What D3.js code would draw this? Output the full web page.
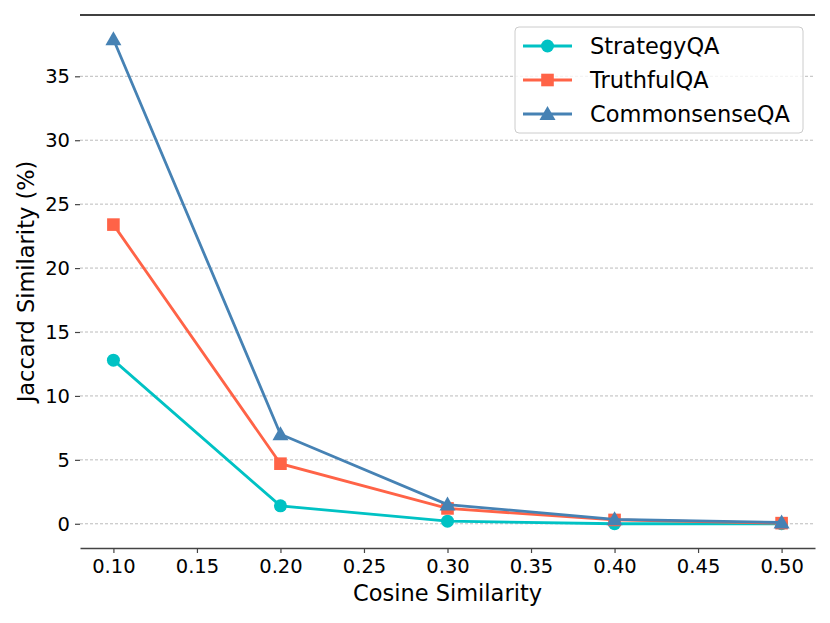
<!DOCTYPE html>
<html>
<head>
<meta charset="utf-8">
<script src="https://cdn.jsdelivr.net/npm/d3@7"></script>
<style>
  body { margin: 0; background: #fff; }
  text { font-family: "DejaVu Sans", sans-serif; }
</style>
</head>
<body>
<script>
let width = 830,
    height = 623;

// data
let cosine = [0.10, 0.20, 0.30, 0.40, 0.50];
let strategyQA = [12.8, 1.4, 0.2, 0.0, 0.0];
let truthfulQA = [23.4, 4.7, 1.2, 0.3, 0.05];
let commonsenseQA = [37.9, 7.0, 1.5, 0.35, 0.1];
let seriesNames = ["StrategyQA", "TruthfulQA", "CommonsenseQA"];
let xTicks = [0.10, 0.15, 0.20, 0.25, 0.30, 0.35, 0.40, 0.45, 0.50];
let yTicks = [0, 5, 10, 15, 20, 25, 30, 35];

let series = [
    {name: seriesNames[0], values: strategyQA, color: "#00C2C4", marker: "circle"},
    {name: seriesNames[1], values: truthfulQA, color: "#FF6347", marker: "square"},
    {name: seriesNames[2], values: commonsenseQA, color: "#4682B4", marker: "triangle"}
];

let margin = {left: 80, right: 15, top: 15, bottom: 75};

let svg = d3.select("body").append("svg")
    .attr("width", width).attr("height", height);

let x = d3.scaleLinear().domain([0.08, 0.52]).range([margin.left, width - margin.right]);
let y = d3.scaleLinear().domain([-1.895, 39.795]).range([height - margin.bottom, margin.top]);

// grid
svg.append("g").selectAll("line")
    .data(yTicks)
    .enter().append("line")
    .attr("x1", margin.left).attr("x2", width - margin.right)
    .attr("y1", d => y(d)).attr("y2", d => y(d))
    .attr("stroke", "#b4b4b4").attr("stroke-width", 0.9)
    .attr("stroke-dasharray", "3,2");

// axes
let xAxis = svg.append("g")
    .attr("transform", "translate(0," + (height - margin.bottom) + ")")
    .call(d3.axisBottom(x).tickValues(xTicks).tickFormat(d3.format(".2f"))
        .tickSize(5).tickSizeOuter(0).tickPadding(6));
xAxis.select(".domain").attr("stroke", "#444").attr("stroke-width", 1.5);
xAxis.selectAll(".tick line").attr("stroke", "#444").attr("stroke-width", 1.2);
xAxis.selectAll("text").attr("font-size", 19.5).attr("fill", "#000");

let yAxis = svg.append("g")
    .attr("transform", "translate(" + margin.left + ",0)")
    .call(d3.axisLeft(y).tickValues(yTicks).tickSize(5).tickPadding(5));
yAxis.select(".domain").remove();
yAxis.selectAll(".tick line").attr("stroke", "#444").attr("stroke-width", 1.2);
yAxis.selectAll("text").attr("font-size", 19.5).attr("fill", "#000");

// top spine
svg.append("line")
    .attr("x1", margin.left).attr("x2", width - margin.right)
    .attr("y1", margin.top).attr("y2", margin.top)
    .attr("stroke", "#000").attr("stroke-width", 1.4);

// labels
svg.append("text")
    .attr("x", (margin.left + width - margin.right) / 2).attr("y", 601)
    .attr("text-anchor", "middle").attr("font-size", 22.5)
    .text("Cosine Similarity");
svg.append("text")
    .attr("transform", "translate(34," + ((margin.top + height - margin.bottom) / 2) + ") rotate(-90)")
    .attr("text-anchor", "middle").attr("font-size", 22.5)
    .text("Jaccard Similarity (%)");

let line = d3.line()
    .x((d, i) => x(cosine[i]))
    .y(d => y(d));

function drawMarker(g, type, color, cx, cy) {
    if (type === "circle") {
        g.append("circle").attr("cx", cx).attr("cy", cy).attr("r", 6.5).attr("fill", color);
    } else if (type === "square") {
        g.append("rect").attr("x", cx - 6.3).attr("y", cy - 6.3).attr("width", 12.6).attr("height", 12.6).attr("fill", color);
    } else {
        g.append("path")
            .attr("d", "M" + cx + "," + (cy - 8) + "L" + (cx + 8) + "," + (cy + 6) + "L" + (cx - 8) + "," + (cy + 6) + "Z")
            .attr("fill", color);
    }
}

series.forEach(function (s) {
    let g = svg.append("g");
    g.append("path")
        .attr("d", line(s.values))
        .attr("fill", "none")
        .attr("stroke", s.color)
        .attr("stroke-width", 2.8);
    s.values.forEach(function (v, i) {
        drawMarker(g, s.marker, s.color, x(cosine[i]), y(v));
    });
});

// legend
let legend = svg.append("g").attr("transform", "translate(515,27)");
legend.append("rect")
    .attr("width", 288).attr("height", 106).attr("rx", 4)
    .attr("fill", "#fff").attr("fill-opacity", 0.8)
    .attr("stroke", "#ccc").attr("stroke-width", 1);
series.forEach(function (s, i) {
    let ly = 19 + i * 34;
    legend.append("line")
        .attr("x1", 8).attr("x2", 57).attr("y1", ly).attr("y2", ly)
        .attr("stroke", s.color).attr("stroke-width", 2.8);
    drawMarker(legend, s.marker, s.color, 32.5, ly);
    legend.append("text")
        .attr("x", 75).attr("y", ly + 8)
        .attr("font-size", 22.5)
        .text(s.name);
});
</script>
</body>
</html>
